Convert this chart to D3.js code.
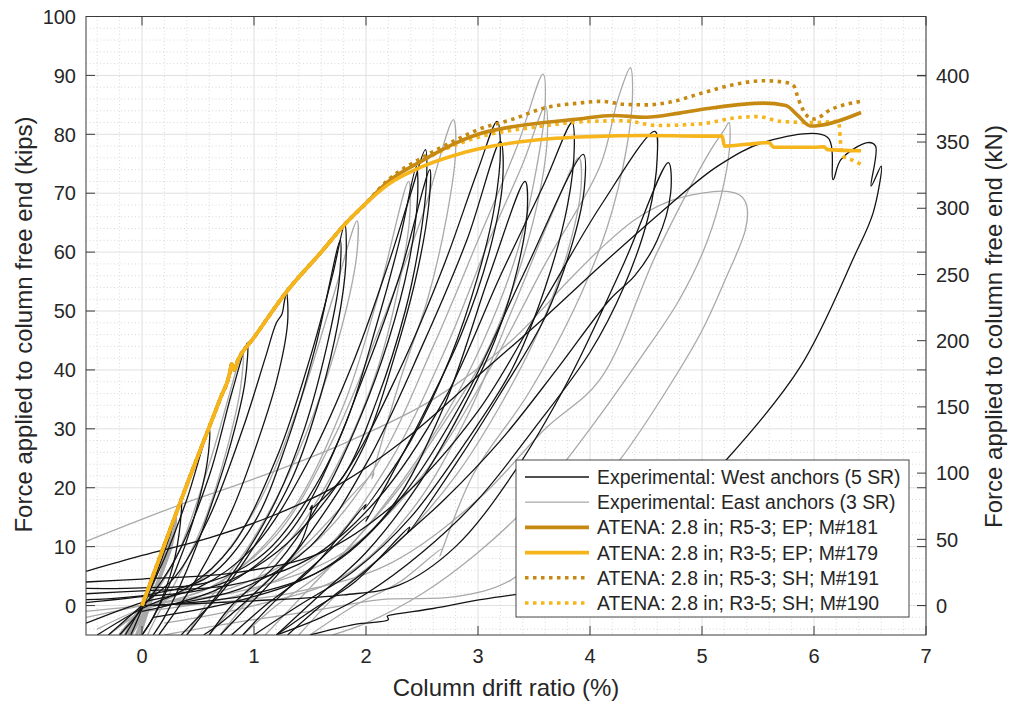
<!DOCTYPE html>
<html>
<head>
<meta charset="utf-8">
<script src="https://cdn.jsdelivr.net/npm/d3@7"></script>
<style>
  body { margin: 0; background: #fff; }
  text { font-family: "Liberation Sans", Arial, sans-serif; fill: #262626; }
</style>
</head>
<body>
<div id="chart"></div>
<script>
// chart values (drift %, force kips)

var xTicks = [0, 1, 2, 3, 4, 5, 6, 7];
var yTicks = [0, 10, 20, 30, 40, 50, 60, 70, 80, 90, 100];
var kNTicks = [0, 50, 100, 150, 200, 250, 300, 350, 400];

// experimental loops, west anchors (black)
var westLoops = [
  [[-0.1,-5],[0.1,4],[0.25,12],[0.35,18],[0.33,12],[0.25,5],[0.1,-2],[0,-5]],
  [[-0.15,-5],[0,0],[0.2,8],[0.4,18],[0.6,30],[0.58,24],[0.45,14],[0.3,6],[0.1,-2],[0,-5]],
  [[-0.2,-5],[0,-0.5],[0.3,8],[0.6,22],[0.8,36],[0.94,44.6],[0.92,38],[0.8,28],[0.6,16],[0.4,6],[0.2,-2],[0.1,-5]],
  [[-0.3,-5],[0,0],[0.3,5],[0.6,15],[0.9,30],[1.1,42],[1.2,48],[1.25,49.5],[1.27,51.5],[1.29,53.1],[1.3,48],[1.2,38],[1.0,26],[0.8,16],[0.5,5],[0.3,-1],[0.15,-5]],
  [[-0.4,-5],[0,-0.5],[0.4,3],[0.8,10],[1.2,25],[1.5,42],[1.7,56],[1.81,64.7],[1.82,58],[1.75,48],[1.6,36],[1.35,22],[1.0,10],[0.7,2],[0.45,-3],[0.35,-5]],
  [[-0.5,1],[0.1,2],[0.6,5],[1.0,14],[1.3,28],[1.55,44],[1.77,62],[1.76,55],[1.65,44],[1.45,30],[1.2,18],[0.9,8],[0.6,0],[0.4,-5]],
  [[0,-1],[0.7,3],[1.3,12],[1.8,30],[2.1,48],[2.3,62],[2.45,74.5],[2.46,69],[2.38,58],[2.2,45],[1.95,32],[1.6,18],[1.2,7],[0.8,0],[0.6,-5]],
  [[-0.5,-3],[0,0.5],[0.5,3],[1.0,10],[1.5,25],[1.9,42],[2.2,58],[2.4,70],[2.53,77.4],[2.54,72],[2.48,62],[2.35,50],[2.1,35],[1.8,22],[1.5,16.3],[1.52,17],[1.4,10],[1.0,2],[0.7,-3],[0.55,-5]],
  [[-0.5,2.9],[0,3],[0.6,4],[1.1,9],[1.6,22],[2.0,40],[2.3,56],[2.57,74],[2.56,68],[2.45,56],[2.25,42],[1.98,27],[1.6,15],[1.2,5],[0.9,-1],[0.7,-5]],
  [[-0.5,0.5],[0,1.5],[0.6,3],[1.2,9],[1.8,22],[2.3,40],[2.7,58],[3.0,74],[3.17,82.2],[3.2,78],[3.15,68],[3.0,56],[2.75,42],[2.4,28],[1.98,16.3],[2.0,17.2],[1.5,6],[1.1,0],[0.8,-5]],
  [[0.2,0],[0.9,3],[1.5,10],[2.0,24],[2.5,44],[2.9,62],[3.2,78.8],[3.22,72],[3.1,60],[2.85,46],[2.5,32],[2.0,14.3],[2.02,15.2],[1.6,8],[1.2,1],[0.9,-5]],
  [[0.1,-2],[0.9,1],[1.6,6],[2.2,16],[2.7,34],[3.1,56],[3.42,72],[3.44,67],[3.35,57],[3.15,45],[2.85,33],[2.45,20],[2.0,9],[1.6,2],[1.2,-5]],
  [[-0.5,2],[0,2.5],[0.8,3.5],[1.5,8],[2.1,18],[2.7,35],[3.2,56],[3.6,72],[3.84,82],[3.86,78],[3.8,68],[3.6,54],[3.3,40],[2.9,28],[2.4,15],[1.9,6],[1.4,0],[1.0,-5]],
  [[0.1,0],[1.0,2],[1.7,7],[2.3,18],[2.9,36],[3.4,56],[3.94,76.6],[3.95,71],[3.85,62],[3.6,49],[3.2,36],[2.8,24],[2.37,12.3],[2.39,13.3],[1.9,4],[1.5,-1],[1.2,-5]],
  [[-0.5,4],[0,4.5],[0.8,5.5],[1.6,9],[2.3,18],[3.0,33],[3.6,52],[4.1,68],[4.58,80.5],[4.6,76],[4.52,66],[4.3,54],[4.0,43],[3.5,30],[3.0,18],[2.5,9],[2.0,2],[1.6,-2],[1.2,-5]],
  [[0,0],[1.0,0.8],[1.8,1.8],[2.3,3.5],[2.8,10],[3.3,22],[3.8,38],[4.3,58],[4.7,75.2],[4.72,70],[4.6,62],[4.4,56],[4.18,52],[3.7,40],[3.2,28],[2.7,18],[2.37,12.3],[2.0,6],[1.6,0],[1.3,-5]],
  [[-0.5,5.8],[0,8.5],[0.6,11.5],[1.2,15.5],[1.8,21],[2.4,29],[3.0,39],[3.6,49],[4.09,57.6],[4.63,66.7],[5.14,74.6],[5.58,78.8],[6.12,79.5],[6.17,72.3],[6.24,75.7],[6.48,78.6],[6.55,78],[6.51,71.2],[6.6,74.6],[6.53,66.8],[6.36,59.3],[5.88,40.6],[5.22,24.8],[4.7,15],[4.2,7],[3.7,3],[3.35,1.9],[3.02,1],[2.6,-0.5],[2.25,-1.5],[2.19,-1.8],[2.2,-2.4],[1.9,-3.2],[1.5,-5]]
];

// experimental loops, east anchors (grey)
var eastLoops = [
  [[-0.2,-5],[0,0],[0.1,4],[0.2,10],[0.18,6],[0.05,0],[-0.1,-5]],
  [[-0.15,-5],[0.05,2],[0.18,8],[0.26,13],[0.22,8],[0.1,2],[-0.05,-5]],
  [[-0.12,-5],[0.08,3],[0.22,11],[0.3,15],[0.26,10],[0.12,3],[-0.02,-5]],
  [[-0.2,-5],[0,-1],[0.3,8],[0.6,24],[0.9,43],[0.88,37],[0.75,26],[0.55,14],[0.3,4],[0.1,-3],[0.05,-5]],
  [[-0.3,-5],[0,-1],[0.5,4],[1.0,16],[1.4,34],[1.7,52],[1.92,65.3],[1.92,60],[1.82,50],[1.6,36],[1.3,22],[0.95,10],[0.6,1],[0.4,-5]],
  [[-0.3,-5],[0,-1],[0.7,4],[1.3,15],[1.8,34],[2.1,52],[2.38,72],[2.39,66],[2.3,55],[2.1,40],[1.8,26],[1.4,13],[1.0,4],[0.6,-5]],
  [[-0.4,-4],[0,-0.5],[0.6,3],[1.2,12],[1.7,28],[2.1,46],[2.5,66],[2.78,82.5],[2.8,77],[2.72,66],[2.55,52],[2.3,38],[2.05,21.5],[2.07,22.5],[1.5,11],[1.0,2],[0.7,-5]],
  [[-0.5,-2],[0,0],[0.8,3],[1.5,10],[2.1,24],[2.6,44],[3.0,62],[3.35,78],[3.58,90.2],[3.6,85],[3.52,74],[3.35,60],[3.05,45],[2.7,32],[2.2,18],[1.7,7],[1.2,0],[0.9,-5]],
  [[0,-1],[0.9,2],[1.6,9],[2.2,24],[2.72,44],[3.1,62],[3.4,75],[3.6,84.8],[3.62,80],[3.55,70],[3.35,56],[3.05,42],[2.66,30],[2.3,20],[1.9,11],[1.5,3],[1.1,-5]],
  [[0.2,-3],[1.0,0],[1.8,5],[2.4,16],[2.9,32],[3.3,50],[3.65,66],[3.9,76],[3.92,71],[3.8,60],[3.55,47],[3.2,34],[2.8,22],[2.3,11],[1.8,3],[1.4,-5]],
  [[-0.5,-1],[0.2,0.5],[1.0,3],[1.8,9],[2.5,22],[3.1,40],[3.6,58],[4.09,74.6],[4.25,86],[4.36,91.3],[4.38,87],[4.33,78],[4.15,64],[3.85,50],[3.45,36],[2.95,22],[2.66,8.4],[2.68,9.6],[2.3,4],[1.9,0],[1.5,-5]],
  [[0.3,0],[1.3,2],[2.2,7],[3.0,18],[3.6,30],[4.09,38.4],[4.6,60],[5.08,77.4],[5.2,80.8],[5.24,82],[5.25,79],[5.2,72],[5.05,62],[4.8,52],[4.45,42],[4.0,30],[3.5,18],[3.0,9],[2.5,2],[2.0,-3],[1.7,-5]],
  [[-0.5,10.9],[0.31,16.9],[1.0,21.5],[1.8,27.5],[2.6,35],[3.3,45],[3.8,55],[4.09,60.5],[4.4,65.5],[4.69,68.5],[5.0,70],[5.22,70.3],[5.35,69.5],[5.4,67.8],[5.39,64],[5.2,55],[4.99,46.3],[4.6,34],[4.27,24.8],[3.8,14],[3.3,4.4],[2.8,1.5],[2.13,1],[1.5,-1],[0.8,-3],[0.2,-5]]
];

// ATENA models
var sharedStart = [[0,0],[0.2,10.3],[0.4,20.5],[0.6,30.3],[0.7,35.2],[0.78,39.2],[0.8,41],[0.82,40],[0.86,41.8],[1.0,45.5],[1.3,53.5],[1.6,60],[1.8,64.5],[2.0,68.3]];
var epR53 = sharedStart.concat([[2.2,72],[2.5,75.5],[2.8,78.5],[3.0,80],[3.5,81.8],[3.9,82.6],[4.2,83.2],[4.5,82.9],[4.8,83.6],[5.1,84.5],[5.55,85.3],[5.75,84.9],[5.85,83.3],[5.97,81.4],[6.05,81.5],[6.42,83.7]]);
var epR35 = sharedStart.concat([[2.2,71.5],[2.5,74.5],[2.8,76.5],[3.0,77.5],[3.5,79],[4.0,79.6],[4.5,79.8],[5.0,79.7],[5.18,79.7],[5.2,78],[5.4,78.3],[5.6,78.6],[5.64,77.8],[6.0,77.8],[6.09,77.9],[6.12,77.4],[6.42,77.2]]);
var shR53 = sharedStart.concat([[2.2,72.3],[2.5,76],[2.8,79],[3.0,80.8],[3.3,82.5],[3.6,84.5],[3.9,85.3],[4.1,85.6],[4.3,85.1],[4.5,85.0],[4.7,85.4],[5.0,87],[5.3,88.5],[5.55,89.1],[5.75,88.8],[5.82,88.2],[5.86,86],[5.94,83.1],[6.0,82.6],[6.15,84.2],[6.42,85.6]]);
var shR35 = sharedStart.concat([[2.2,72],[2.5,75.5],[2.8,78.2],[3.0,79.5],[3.5,81.2],[4.0,82.2],[4.3,82.3],[4.6,81.5],[5.0,81.8],[5.3,82.8],[5.5,83],[5.7,82.2],[6.0,82],[6.22,82.2],[6.24,78],[6.26,76.3],[6.33,75.7],[6.42,74.9]]);

var legendLabels = [
  "Experimental: West anchors (5 SR)",
  "Experimental: East anchors (3 SR)",
  "ATENA: 2.8 in; R5-3; EP; M#181",
  "ATENA: 2.8 in; R3-5; EP; M#179",
  "ATENA: 2.8 in; R5-3; SH; M#191",
  "ATENA: 2.8 in; R3-5; SH; M#190"
];

var dark = "#c68912", bright = "#f6b51b";

var W = 1009, H = 702;
var margin = {top: 16.5, right: 83, bottom: 67, left: 86};
var width = W - margin.left - margin.right,
    height = H - margin.top - margin.bottom;

var svg = d3.select("#chart").append("svg")
    .attr("width", W)
    .attr("height", H)
    .append("g")
    .attr("transform", "translate(" + margin.left + "," + margin.top + ")");

var x = d3.scaleLinear().domain([-0.5, 7]).range([0, width]);
var y = d3.scaleLinear().domain([-5, 100]).range([height, 0]);
var yKN = d3.scaleLinear().domain([-5 * 4.448, 100 * 4.448]).range([height, 0]);

// minor grid
svg.append("g").selectAll("line")
    .data(d3.range(-0.4, 7, 0.2).filter(function(v) { return Math.abs(v - Math.round(v)) > 0.01; }))
    .enter().append("line")
    .attr("x1", function(d) { return x(d); }).attr("x2", function(d) { return x(d); })
    .attr("y1", 0).attr("y2", height)
    .attr("stroke", "#c8c8c8").attr("stroke-width", 0.7).attr("stroke-dasharray", "1,2.5");

svg.append("g").selectAll("line")
    .data(d3.range(-4, 100, 2).filter(function(v) { return v % 10 !== 0; }))
    .enter().append("line")
    .attr("y1", function(d) { return y(d); }).attr("y2", function(d) { return y(d); })
    .attr("x1", 0).attr("x2", width)
    .attr("stroke", "#c8c8c8").attr("stroke-width", 0.7).attr("stroke-dasharray", "1,2.5");

// major grid
svg.append("g").selectAll("line")
    .data(xTicks)
    .enter().append("line")
    .attr("x1", function(d) { return x(d); }).attr("x2", function(d) { return x(d); })
    .attr("y1", 0).attr("y2", height)
    .attr("stroke", "#e0e0e0").attr("stroke-width", 1);

svg.append("g").selectAll("line")
    .data(yTicks)
    .enter().append("line")
    .attr("y1", function(d) { return y(d); }).attr("y2", function(d) { return y(d); })
    .attr("x1", 0).attr("x2", width)
    .attr("stroke", "#e0e0e0").attr("stroke-width", 1);

svg.append("clipPath").attr("id", "plotclip")
    .append("rect").attr("width", width).attr("height", height);

var plot = svg.append("g").attr("clip-path", "url(#plotclip)");

var loopLine = d3.line()
    .x(function(d) { return x(d[0]); })
    .y(function(d) { return y(d[1]); })
    .curve(d3.curveCatmullRom.alpha(0.5));

var modelLine = d3.line()
    .x(function(d) { return x(d[0]); })
    .y(function(d) { return y(d[1]); })
    .curve(d3.curveMonotoneX);

plot.selectAll(".east")
    .data(eastLoops)
    .enter().append("path")
    .attr("class", "east")
    .attr("d", loopLine)
    .attr("fill", "none")
    .attr("stroke", "#a9a9a9")
    .attr("stroke-width", function(d, i) { return i < 3 ? 3.2 : 1.3; });

plot.selectAll(".west")
    .data(westLoops)
    .enter().append("path")
    .attr("class", "west")
    .attr("d", loopLine)
    .attr("fill", "none")
    .attr("stroke", "#141414")
    .attr("stroke-width", 1.3);

var atena = [
  {data: shR35, color: bright, dash: "3.5,4.5"},
  {data: shR53, color: dark, dash: "3.5,4.5"},
  {data: epR53, color: dark, dash: null},
  {data: epR35, color: bright, dash: null}
];

plot.selectAll(".atena")
    .data(atena)
    .enter().append("path")
    .attr("class", "atena")
    .attr("d", function(d) { return modelLine(d.data); })
    .attr("fill", "none")
    .attr("stroke", function(d) { return d.color; })
    .attr("stroke-width", 3.6)
    .attr("stroke-linejoin", "round")
    .attr("stroke-dasharray", function(d) { return d.dash; });

// axes box and ticks
var frame = "#3a3a3a";
svg.append("rect")
    .attr("width", width).attr("height", height)
    .attr("fill", "none").attr("stroke", frame).attr("stroke-width", 1);

var tickLen = 9;
var xt = svg.append("g");
xTicks.forEach(function(t) {
    xt.append("line").attr("x1", x(t)).attr("x2", x(t)).attr("y1", height).attr("y2", height - tickLen).attr("stroke", frame);
    xt.append("line").attr("x1", x(t)).attr("x2", x(t)).attr("y1", 0).attr("y2", tickLen).attr("stroke", frame);
    xt.append("text").attr("x", x(t)).attr("y", height + 28)
        .attr("text-anchor", "middle").style("font-size", "20px").text(t);
});

var yt = svg.append("g");
yTicks.forEach(function(t) {
    yt.append("line").attr("x1", 0).attr("x2", tickLen).attr("y1", y(t)).attr("y2", y(t)).attr("stroke", frame);
    yt.append("line").attr("x1", width).attr("x2", width - tickLen).attr("y1", y(t)).attr("y2", y(t)).attr("stroke", frame);
    yt.append("text").attr("x", -10).attr("y", y(t)).attr("dy", "0.36em")
        .attr("text-anchor", "end").style("font-size", "20px").text(t);
});

var kt = svg.append("g");
kNTicks.forEach(function(t) {
    kt.append("line").attr("x1", width).attr("x2", width - tickLen).attr("y1", yKN(t)).attr("y2", yKN(t)).attr("stroke", frame);
    kt.append("text").attr("x", width + 10).attr("y", yKN(t)).attr("dy", "0.36em")
        .attr("text-anchor", "start").style("font-size", "20px").text(t);
});

// axis titles
svg.append("text")
    .attr("x", width / 2).attr("y", height + 61)
    .attr("text-anchor", "middle").style("font-size", "24px")
    .text("Column drift ratio (%)");

svg.append("text")
    .attr("transform", "translate(" + (-54) + "," + 308 + ") rotate(-90)")
    .attr("text-anchor", "middle").style("font-size", "24px")
    .text("Force applied to column free end (kips)");

svg.append("text")
    .attr("transform", "translate(" + (width + 76) + "," + 310 + ") rotate(-90)")
    .attr("text-anchor", "middle").style("font-size", "24px")
    .text("Force applied to column free end (kN)");

// legend
var lg = svg.append("g").attr("transform", "translate(" + (516 - margin.left) + "," + (460 - margin.top) + ")");
lg.append("rect").attr("width", 393).attr("height", 157)
    .attr("fill", "#fff").attr("stroke", "#333").attr("stroke-width", 0.9);

var legendStyle = [
  {color: "#141414", w: 1.3, dash: null},
  {color: "#a9a9a9", w: 1.3, dash: null},
  {color: dark, w: 3.6, dash: null},
  {color: bright, w: 3.6, dash: null},
  {color: dark, w: 3.6, dash: "3.5,4.5"},
  {color: bright, w: 3.6, dash: "3.5,4.5"}
];

legendLabels.forEach(function(lbl, i) {
    var ry = 17 + i * 25.2;
    lg.append("line").attr("x1", 9).attr("x2", 73).attr("y1", ry).attr("y2", ry)
        .attr("stroke", legendStyle[i].color).attr("stroke-width", legendStyle[i].w)
        .attr("stroke-dasharray", legendStyle[i].dash);
    lg.append("text").attr("x", 81).attr("y", ry).attr("dy", "0.36em")
        .style("font-size", "19.4px").text(lbl);
});
</script>
</body>
</html>
